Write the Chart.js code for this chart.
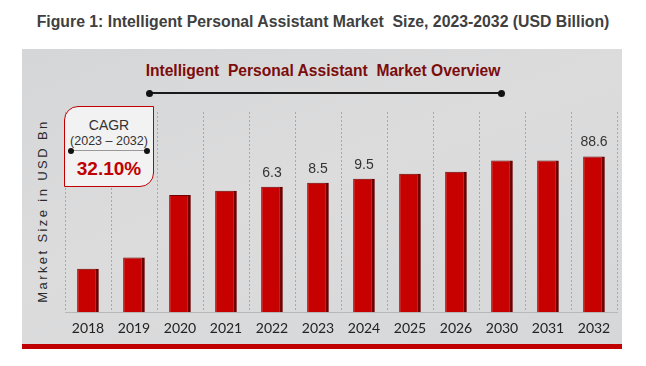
<!DOCTYPE html>
<html>
<head>
<meta charset="utf-8">
<script src="https://cdn.jsdelivr.net/npm/chart.js@4/dist/chart.umd.min.js"></script>
<style>
  html, body { margin: 0; padding: 0; background: #fff; }
  #wrap { position: relative; width: 646px; height: 366px; overflow: hidden; }
  #fig-title {
    position: absolute; left: 0; top: 13px; width: 646px; text-align: center;
    font: bold 15.8px "Liberation Sans", Arial, sans-serif; color: #404040;
  }
  #panel {
    position: absolute; left: 22px; top: 49px; width: 600px; height: 295px;
    background: linear-gradient(160deg, #d5d6d7 0%, #dcdcdd 45%, #d6d7d8 100%);
  }
  #redline { position: absolute; left: 22px; top: 344px; width: 600px; height: 5px; background: #c00000; }
  #sub-title {
    position: absolute; left: 0; top: 62px; width: 646px; text-align: center;
    font: bold 15.6px "Liberation Sans Narrow", "Arial Narrow", sans-serif; color: #7b0c0c;
  }
  #sub-line { position: absolute; left: 150px; top: 92px; width: 352px; height: 2px; background: #1a1a1a; }
  .dot { position: absolute; width: 7px; height: 7px; border-radius: 50%; background: #111; }
  #ytitle {
    position: absolute; left: 42px; top: 211px; transform: translate(-50%, -50%) rotate(-90deg);
    white-space: nowrap; font: 13px "Liberation Sans", Arial, sans-serif; letter-spacing: 2.4px; color: #2a2a2a;
  }
  #cagr {
    position: absolute; left: 64px; top: 106px; width: 88px; height: 79px;
    background: #f2f2f2; border: 1px solid #c00000;
    border-radius: 14px 0 14px 0; z-index: 3; text-align: center;
    font-family: "Liberation Sans", Arial, sans-serif;
  }
  #cagr .c1 { position: absolute; top: 10px; width: 100%; font-size: 14px; color: #333; }
  #cagr .c2 { position: absolute; top: 27px; width: 100%; font-size: 12.5px; color: #333; }
  #cagr .ln { position: absolute; left: 6px; top: 43px; width: 76px; height: 1px; background: #999; }
  #cagr .c3 { position: absolute; top: 51px; width: 100%; font-size: 19px; font-weight: bold; color: #c00000; }
  canvas { position: absolute; left: 0; top: 0; z-index: 2; }
</style>
</head>
<body>
<div id="wrap">
  <div id="fig-title">Figure 1: Intelligent Personal Assistant Market&nbsp; Size, 2023-2032 (USD Billion)</div>
  <div id="panel"></div>
  <div id="redline"></div>
  <div id="sub-title">Intelligent&nbsp; Personal Assistant&nbsp; Market Overview</div>
  <div id="sub-line"></div>
  <div class="dot" style="left:146px; top:89.5px"></div>
  <div class="dot" style="left:498px; top:89.5px"></div>
  <div id="ytitle">Market Size in USD Bn</div>
  <div id="cagr">
    <div class="c1">CAGR</div>
    <div class="c2">(2023 – 2032)</div>
    <div class="ln"></div>
    <div class="dot" style="left:3px; top:40.5px; width:6px; height:6px"></div>
    <div class="dot" style="left:79px; top:40.5px; width:6px; height:6px"></div>
    <div class="c3">32.10%</div>
  </div>
  <canvas id="chart" width="646" height="366"></canvas>
</div>
<script>
'use strict';

// years on the x axis (the source skips 2027-2029)
var years = ['2018', '2019', '2020', '2021', '2022', '2023', '2024', '2025', '2026', '2030', '2031', '2032'];
// relative bar heights as drawn in the picture (the bars are not to scale with the printed values)
var barHeights = [43, 54, 116, 120, 124, 128, 132, 137, 139, 150, 150, 154];
// value labels printed above some bars
var valueLabels = ['', '', '', '', '6.3', '8.5', '9.5', '', '', '', '', '88.6'];

var ctx = document.getElementById('chart').getContext('2d');

var barLabels = {
    id: 'barLabels',
    afterDatasetsDraw: function(chart) {
        var c = chart.ctx;
        var meta = chart.getDatasetMeta(0);
        c.save();
        c.font = '14px "Liberation Sans", Arial, sans-serif';
        c.fillStyle = '#333';
        c.textAlign = 'center';
        c.textBaseline = 'middle';
        meta.data.forEach(function(bar, i) {
            if (valueLabels[i]) {
                c.fillText(valueLabels[i], bar.x, bar.y - 14);
            }
        });
        c.restore();
    }
};

var chart = new Chart(ctx, {
    type: 'bar',
    data: {
        labels: years,
        datasets: [{
            data: barHeights,
            backgroundColor: '#c70000',
            borderColor: '#6e0000',
            borderWidth: { left: 1, right: 3, top: 1, bottom: 0 },
            borderSkipped: false,
            barPercentage: 0.47,
            categoryPercentage: 1
        }]
    },
    options: {
        responsive: false,
        animation: false,
        layout: { padding: { left: 65, right: 29, top: 112, bottom: 21 } },
        plugins: { legend: { display: false }, tooltip: { enabled: false } },
        scales: {
            x: {
                grid: { color: '#a9a9a9', lineWidth: 1, drawTicks: false, offset: true },
                border: { color: '#b8b8b8', width: 1, dash: [2, 2] },
                ticks: { padding: 8, color: '#222', font: { family: 'Lato', size: 14 } }
            },
            y: {
                display: false,
                min: 0,
                max: 198
            }
        }
    },
    plugins: [barLabels]
});
</script>
</body>
</html>
